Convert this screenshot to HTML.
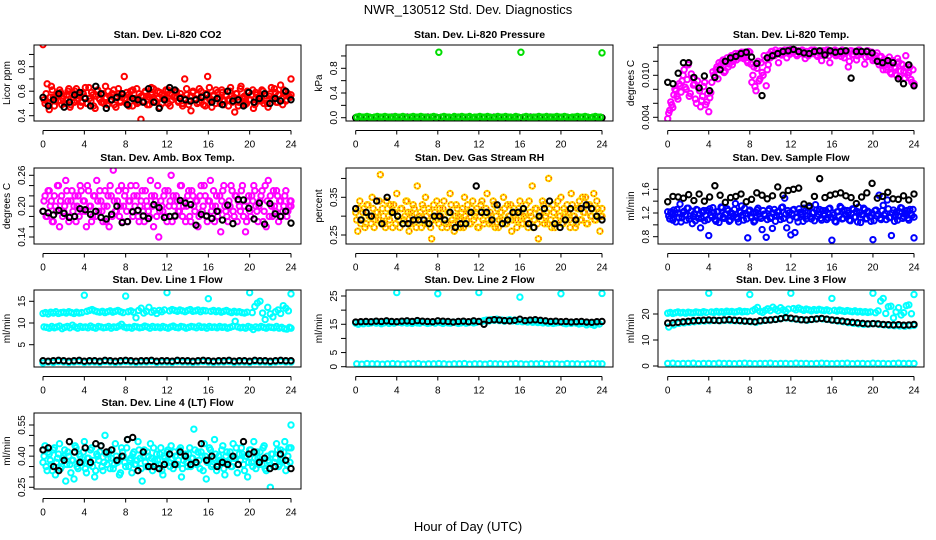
<!DOCTYPE html>
<html><head><meta charset="utf-8"><style>
html,body{margin:0;padding:0;background:#fff;}
svg{display:block;font-family:"Liberation Sans",Arial,sans-serif;}
</style></head><body>
<svg id="chart" width="936" height="540" viewBox="0 0 936 540">
<rect x="0" y="0" width="936" height="540" fill="#fff"/>
<text x="468" y="14" text-anchor="middle" font-size="13">NWR_130512  Std. Dev. Diagnostics</text>
<text x="468" y="531" text-anchor="middle" font-size="13">Hour of Day (UTC)</text>
</svg>
<script>
// ---------- data ----------
const xTicks = [0,4,8,12,16,20,24];
const co2Red = [0.98,0.50,0.66,0.45,0.64,0.55,0.52,0.58,0.61,0.49,0.56,0.53,0.60,0.47,0.57,0.51,0.62,0.54,0.48,0.59,0.55,0.50,0.63,0.52,0.57,0.46,0.60,0.54,0.51,0.58,0.64,0.49,0.56,0.53,0.61,0.47,0.58,0.52,0.55,0.72,0.50,0.57,0.60,0.48,0.54,0.62,0.51,0.37,0.56,0.59,0.53,0.49,0.63,0.55,0.52,0.60,0.47,0.57,0.54,0.61,0.50,0.58,0.53,0.56,0.59,0.51,0.55,0.48,0.70,0.57,0.52,0.44,0.60,0.54,0.50,0.62,0.56,0.49,0.58,0.72,0.53,0.47,0.57,0.61,0.55,0.50,0.59,0.52,0.56,0.48,0.63,0.54,0.43,0.58,0.51,0.64,0.55,0.49,0.60,0.53,0.57,0.46,0.59,0.52,0.55,0.61,0.50,0.56,0.47,0.58,0.54,0.62,0.51,0.57,0.65,0.49,0.59,0.53,0.56,0.70];
const co2RedB = [0.53,0.58,0.50,0.55,0.61,0.48,0.56,0.52,0.59,0.54,0.50,0.57,0.62,0.49,0.55,0.60,0.52,0.57,0.51,0.58,0.63,0.50,0.54,0.59,0.48,0.56,0.61,0.53,0.57,0.50,0.55,0.60,0.52,0.58,0.49,0.56,0.62,0.51,0.57,0.54,0.59,0.48,0.55,0.61,0.53,0.50,0.58,0.56,0.52,0.60,0.49,0.55,0.57,0.62,0.51,0.54,0.59,0.50,0.56,0.53,0.61,0.48,0.57,0.55,0.60,0.52,0.58,0.50,0.54,0.62,0.49,0.56,0.59,0.53,0.57,0.51,0.60,0.55,0.48,0.58,0.63,0.52,0.56,0.50,0.59,0.54,0.61,0.49,0.57,0.53,0.60,0.51,0.55,0.58,0.48,0.62,0.54,0.56,0.50,0.59,0.53,0.61,0.49,0.57,0.55,0.52,0.60,0.58,0.50,0.56,0.63,0.53,0.59,0.51,0.57,0.54,0.61,0.52,0.58,0.55,0.57];
const co2Black = [0.55,0.48,0.53,0.58,0.47,0.51,0.57,0.59,0.54,0.48,0.64,0.58,0.46,0.53,0.55,0.58,0.49,0.54,0.53,0.51,0.62,0.51,0.46,0.53,0.63,0.61,0.54,0.53,0.52,0.53,0.55,0.57,0.51,0.54,0.49,0.60,0.52,0.53,0.48,0.59,0.51,0.54,0.58,0.50,0.54,0.52,0.60,0.53];
const pressGreen = [0.01,0.02,0.01,0.01,0.02,0.01,0.00,0.01,0.02,0.01,0.01,0.02,0.01,0.01,0.00,0.02,
0.01,0.01,0.02,0.01,0.00,0.01,0.02,0.01,0.01,0.02,0.01,0.01,0.00,0.01,0.02,0.01,
1.06,0.01,0.02,0.01,0.01,0.00,0.02,0.01,0.01,0.02,0.01,0.01,0.02,0.00,0.01,0.01,
0.02,0.01,0.01,0.02,0.01,0.00,0.01,0.02,0.01,0.01,0.02,0.01,0.01,0.00,0.02,0.01,
1.06,0.01,0.02,0.01,0.00,0.01,0.01,0.02,0.01,0.01,0.02,0.00,0.01,0.01,0.02,0.01,
0.01,0.02,0.01,0.00,0.01,0.01,0.02,0.01,0.01,0.02,0.01,0.00,0.01,0.02,0.01,0.01,1.05];
const pressBlack = [0.00,0.01,0.00,0.00,0.01,0.00,0.00,0.01,0.00,0.00,0.01,0.00,0.00,0.00,0.01,0.00,0.00,0.01,0.00,0.00,0.01,0.00,0.00,0.00,0.01,0.00,0.00,0.01,0.00,0.00,0.00,0.01,0.00,0.00,0.01,0.00,0.00,0.00,0.01,0.00,0.00,0.01,0.00,0.00,0.00,0.01,0.00,0.00,0.00];
const tempMag = [0.0038,0.0050,0.0058,0.0072,0.0078,0.0066,0.0085,0.0092,0.0108,0.0080,0.0115,0.0074,0.0096,0.0088,0.0060,0.0082,0.0055,0.0070,0.0090,0.0062,0.0048,0.0075,0.0105,0.0098,0.0112,0.0118,0.0110,0.0122,0.0106,0.0125,0.0116,0.0128,0.0120,0.0131,0.0126,0.0130,0.0133,0.0124,0.0131,0.0118,0.0133,0.0090,0.0112,0.0078,0.0120,0.0095,0.0104,0.0128,0.0085,0.0115,0.0125,
0.0134,0.0128,0.0132,0.0118,0.0135,0.0131,0.0136,0.0125,0.0133,0.0137,0.0132,0.0136,0.0128,0.0134,0.0131,0.0135,0.0124,0.0133,0.0130,0.0136,0.0132,0.0135,0.0127,0.0134,0.0121,0.0135,0.0130,0.0136,0.0118,0.0133,0.0135,0.0128,0.0134,0.0131,0.0136,0.0125,0.0133,0.0112,0.0135,0.0129,0.0134,0.0122,0.0136,0.0130,0.0133,0.0116,0.0135,0.0127,0.0133,0.0121,
0.0122,0.0132,0.0115,0.0127,0.0108,0.0120,0.0112,0.0126,0.0102,0.0118,0.0110,0.0124,0.0098,0.0116,0.0106,0.0128,0.0100,0.0112,0.0090,0.0085];
const tempMagB = [0.0046,0.0062,0.0054,0.0080,0.0070,0.0088,0.0076,0.0100,0.0083,0.0094,0.0070,0.0102,0.0086,0.0066,0.0092,0.0078,0.0064,0.0084,0.0058,0.0074,0.0068,0.0090,0.0100,0.0108,0.0095,0.0114,0.0120,0.0104,0.0118,0.0112,0.0124,0.0115,0.0127,0.0122,0.0131,0.0125,0.0129,0.0133,0.0121,0.0134,0.0116,0.0100,0.0084,0.0110,0.0092,0.0118,0.0100,0.0122,0.0108,0.0130,0.0134,0.0130,0.0136,0.0131,0.0134,0.0129,0.0135,0.0132,0.0136,0.0130,0.0134,0.0133,0.0130,0.0135,0.0132,0.0136,0.0130,0.0134,0.0128,0.0135,0.0131,0.0136,0.0129,0.0133,0.0130,0.0135,0.0132,0.0136,0.0128,0.0134,0.0131,0.0136,0.0130,0.0133,0.0127,0.0135,0.0131,0.0134,0.0120,0.0135,0.0130,0.0134,0.0128,0.0136,0.0131,0.0133,0.0126,0.0135,0.0129,0.0133,0.0125,0.0128,0.0120,0.0126,0.0114,0.0123,0.0108,0.0117,0.0104,0.0121,0.0112,0.0100,0.0119,0.0106,0.0115,0.0096,0.0110,0.0104,0.0094,0.0108,0.0088];
const tempBlack = [0.0090,0.0088,0.0103,0.0118,0.0118,0.0097,0.0082,0.0099,0.0078,0.0097,0.0108,0.0120,0.0125,0.0127,0.0131,0.0133,0.0126,0.0117,0.0071,0.0125,0.0128,0.0131,0.0134,0.0135,0.0137,0.0134,0.0132,0.0131,0.0134,0.0135,0.0129,0.0135,0.0133,0.0134,0.0135,0.0096,0.0134,0.0134,0.0134,0.0132,0.0120,0.0118,0.0121,0.0118,0.0095,0.0088,0.0115,0.0085];
const ambMag = [0.19,0.22,0.18,0.23,0.21,0.17,0.20,0.24,0.16,0.22,0.19,0.25,0.21,0.18,0.23,0.20,0.17,0.22,0.24,0.19,0.21,0.16,0.23,0.20,0.18,0.22,0.25,0.19,0.21,0.17,0.23,0.20,0.16,0.22,0.27,0.19,0.21,0.18,0.24,0.20,0.23,0.17,0.21,0.19,0.22,0.24,0.18,0.20,0.23,0.17,0.21,0.19,0.25,0.20,0.22,0.18,0.14,0.21,0.19,0.23,0.17,0.20,0.26,0.22,0.18,0.21,0.19,0.24,0.20,0.17,0.22,0.18,0.23,0.20,0.21,0.16,0.22,0.19,0.24,0.18,0.21,0.25,0.20,0.17,0.22,0.19,0.15,0.23,0.20,0.18,0.21,0.24,0.19,0.22,0.17,0.20,0.23,0.18,0.15,0.21,0.19,0.22,0.24,0.20,0.17,0.21,0.23,0.19,0.16,0.25,0.22,0.18,0.20,0.23,0.17,0.21,0.19,0.22,0.18,0.20,0.21];
const ambMagB = [0.21,0.18,0.23,0.20,0.17,0.22,0.19,0.24,0.21,0.18,0.20,0.23,0.17,0.21,0.19,0.22,0.20,0.18,0.23,0.21,0.19,0.24,0.20,0.17,0.22,0.18,0.21,0.23,0.19,0.20,0.17,0.22,0.24,0.18,0.21,0.19,0.23,0.20,0.17,0.22,0.19,0.21,0.24,0.18,0.20,0.22,0.17,0.21,0.19,0.23,0.20,0.18,0.22,0.16,0.21,0.24,0.19,0.20,0.22,0.18,0.23,0.21,0.17,0.20,0.22,0.19,0.24,0.18,0.21,0.20,0.23,0.17,0.22,0.19,0.21,0.18,0.24,0.20,0.22,0.17,0.21,0.19,0.23,0.20,0.18,0.22,0.21,0.24,0.19,0.17,0.20,0.23,0.18,0.22,0.21,0.19,0.24,0.20,0.17,0.22,0.18,0.21,0.23,0.19,0.20,0.22,0.17,0.24,0.21,0.18,0.20,0.23,0.19,0.22,0.21,0.18,0.20,0.23,0.19,0.21,0.20];
const ambBlack = [0.190,0.187,0.183,0.192,0.186,0.178,0.180,0.195,0.193,0.184,0.190,0.178,0.175,0.184,0.200,0.168,0.170,0.189,0.192,0.181,0.176,0.203,0.197,0.178,0.180,0.181,0.211,0.206,0.203,0.163,0.184,0.181,0.176,0.190,0.173,0.202,0.166,0.213,0.212,0.196,0.175,0.206,0.165,0.205,0.185,0.180,0.190,0.167];
const rhYellow = [0.31,0.26,0.34,0.29,0.32,0.28,0.33,0.30,0.35,0.27,0.31,0.29,0.41,0.32,0.28,0.34,0.30,0.33,0.27,0.31,0.36,0.29,0.32,0.28,0.30,0.34,0.26,0.31,0.33,0.29,0.38,0.30,0.27,0.32,0.35,0.28,0.31,0.24,0.33,0.29,0.30,0.32,0.27,0.34,0.28,0.31,0.36,0.29,0.26,0.33,0.30,0.27,0.32,0.35,0.29,0.31,0.28,0.34,0.30,0.32,0.27,0.33,0.29,0.31,0.36,0.28,0.30,0.34,0.27,0.32,0.29,0.31,0.35,0.28,0.33,0.30,0.26,0.32,0.29,0.31,0.34,0.28,0.30,0.33,0.27,0.31,0.38,0.29,0.32,0.24,0.30,0.34,0.28,0.31,0.40,0.29,0.33,0.27,0.32,0.30,0.35,0.28,0.31,0.33,0.29,0.36,0.30,0.27,0.32,0.34,0.29,0.31,0.35,0.28,0.33,0.30,0.36,0.29,0.32,0.26,0.30];
const rhYellowB = [0.29,0.32,0.28,0.31,0.27,0.33,0.30,0.28,0.32,0.29,0.31,0.34,0.28,0.30,0.27,0.32,0.29,0.31,0.33,0.28,0.30,0.27,0.32,0.29,0.34,0.31,0.28,0.30,0.32,0.27,0.29,0.31,0.33,0.28,0.30,0.32,0.27,0.29,0.31,0.34,0.28,0.30,0.32,0.29,0.27,0.31,0.33,0.28,0.30,0.32,0.29,0.31,0.27,0.30,0.33,0.28,0.32,0.29,0.31,0.27,0.30,0.34,0.28,0.32,0.29,0.31,0.28,0.33,0.30,0.27,0.31,0.29,0.32,0.28,0.30,0.33,0.29,0.31,0.27,0.32,0.30,0.28,0.31,0.29,0.34,0.30,0.27,0.32,0.28,0.31,0.29,0.33,0.30,0.28,0.32,0.27,0.31,0.29,0.34,0.30,0.28,0.32,0.29,0.31,0.27,0.33,0.30,0.28,0.32,0.29,0.35,0.31,0.28,0.33,0.30,0.32,0.29,0.34,0.31,0.30,0.32];
const rhBlack = [0.32,0.29,0.31,0.30,0.34,0.28,0.35,0.31,0.30,0.28,0.28,0.29,0.29,0.29,0.28,0.30,0.30,0.29,0.31,0.27,0.28,0.28,0.31,0.38,0.31,0.31,0.29,0.33,0.28,0.29,0.31,0.31,0.32,0.28,0.27,0.30,0.32,0.34,0.28,0.27,0.29,0.32,0.29,0.32,0.33,0.32,0.30,0.29];
const flowBlue = [1.22,1.10,1.18,1.25,1.05,1.20,1.35,1.12,1.23,1.08,1.28,1.15,1.02,1.19,1.26,1.11,0.95,1.21,1.07,1.24,0.82,1.16,1.29,1.09,1.22,1.04,1.30,1.13,1.18,1.27,1.06,1.20,1.15,1.36,1.10,1.23,1.32,1.08,1.19,0.78,1.25,1.12,1.05,1.21,1.28,1.14,0.92,1.18,0.79,1.24,1.11,0.94,1.26,1.16,1.22,1.09,1.30,1.45,0.95,1.20,0.83,1.25,0.87,1.12,1.27,1.18,1.06,1.23,1.15,1.29,1.10,1.21,1.34,1.14,1.26,1.08,1.19,1.24,1.12,1.28,0.74,1.17,1.05,1.22,1.31,1.10,1.25,1.16,1.20,1.07,1.27,1.13,1.23,1.30,1.04,1.18,1.26,1.11,1.21,1.06,0.75,1.24,1.15,1.50,1.09,1.33,1.19,1.42,1.12,0.82,1.25,1.17,1.08,1.22,1.28,1.14,1.20,1.11,1.26,1.16,0.78];
const flowBlueB = [1.15,1.22,1.08,1.19,1.26,1.12,1.05,1.21,1.17,1.28,1.10,1.23,1.14,1.07,1.25,1.18,1.11,1.24,1.16,1.09,1.27,1.13,1.20,1.06,1.22,1.15,1.29,1.11,1.18,1.24,1.08,1.19,1.26,1.13,1.05,1.21,1.17,1.28,1.10,1.23,1.14,1.20,1.07,1.25,1.18,1.11,1.24,1.16,1.09,1.27,1.13,1.20,1.06,1.22,1.15,1.29,1.11,1.18,1.24,1.08,1.19,1.26,1.13,1.05,1.21,1.17,1.28,1.10,1.23,1.14,1.20,1.07,1.25,1.18,1.11,1.24,1.16,1.09,1.27,1.13,1.20,1.06,1.22,1.15,1.29,1.11,1.18,1.24,1.08,1.19,1.26,1.13,1.05,1.21,1.17,1.28,1.10,1.23,1.14,1.20,1.07,1.25,1.18,1.11,1.24,1.16,1.09,1.27,1.13,1.20,1.06,1.22,1.15,1.29,1.11,1.18,1.24,1.08,1.19,1.26,1.13];
const flowBlack = [1.39,1.48,1.47,1.45,1.51,1.41,1.52,1.40,1.47,1.66,1.50,1.38,1.46,1.48,1.52,1.39,1.43,1.54,1.50,1.44,1.49,1.64,1.50,1.58,1.60,1.62,1.35,1.32,1.48,1.78,1.46,1.50,1.52,1.54,1.49,1.46,1.36,1.47,1.54,1.70,1.45,1.48,1.55,1.44,1.43,1.49,1.42,1.52];
const line1Top = [12.2,12.4,12.1,12.5,12.3,12.6,12.2,12.4,12.5,12.3,12.6,12.4,12.2,12.5,12.3,12.4,16.4,12.7,12.9,13.1,12.8,12.6,12.5,12.7,12.4,12.6,12.8,12.5,12.7,12.9,12.6,12.4,16.2,12.6,12.8,12.5,11.2,12.9,13.4,12.3,12.7,13.6,12.5,12.8,12.2,12.9,12.6,13.0,17.0,12.8,13.1,12.9,12.7,13.0,12.8,12.6,12.9,13.1,12.7,12.8,13.0,12.6,12.9,12.8,15.6,12.7,12.9,12.6,12.8,12.5,12.7,12.9,12.6,12.4,12.7,12.5,12.6,12.4,12.3,12.5,17.0,12.4,13.8,14.6,15.0,12.3,10.8,13.6,12.1,11.4,12.6,13.0,12.2,14.0,13.4,12.8,16.7];
const line1Mid = [9.1,9.0,8.8,9.2,8.9,9.1,9.3,8.7,9.0,9.2,8.9,9.5,9.1,8.8,9.2,9.0,9.1,8.9,9.3,9.0,8.8,9.2,9.1,8.9,9.0,9.2,8.8,9.1,9.0,9.3,9.7,9.1,8.9,9.0,8.8,9.2,9.1,8.9,9.0,9.3,9.1,8.8,9.2,9.0,9.1,8.9,9.2,9.0,8.8,9.1,9.3,9.0,8.9,9.2,9.1,8.8,9.0,9.2,9.1,8.9,9.3,9.0,9.1,8.8,9.2,9.0,9.1,8.9,9.2,9.0,9.1,8.8,9.0,9.2,10.4,9.1,8.9,9.0,8.8,9.2,9.0,8.5,9.1,8.9,9.2,9.0,8.8,9.1,9.0,8.9,9.2,8.8,9.0,8.7,8.6,9.0,8.8];
const line1Low = [0.8,1.0,0.9,1.1,1.0,0.9,1.0,1.1,0.9,1.0,1.0,0.9,1.1,1.0,0.9,1.0,1.1,1.0,0.9,1.0,1.0,1.1,0.9,1.0,1.0,0.9,1.1,1.0,1.0,0.9,1.0,1.1,1.0,0.9,1.0,1.0,1.1,0.9,1.0,1.0,0.9,1.1,1.0,1.0,0.9,1.0,1.1,1.0,1.0];
const line1Black = [1.3,1.2,1.3,1.4,1.3,1.2,1.3,1.4,1.2,1.3,1.3,1.2,1.4,1.3,1.2,1.3,1.4,1.3,1.2,1.3,1.3,1.4,1.2,1.3,1.3,1.2,1.4,1.3,1.3,1.2,1.3,1.4,1.3,1.2,1.3,1.3,1.4,1.2,1.3,1.3,1.2,1.4,1.3,1.3,1.2,1.3,1.4,1.3,1.3];
const line2Top = [15.4,15.0,15.6,15.2,15.7,15.3,15.5,15.8,15.4,15.6,15.2,15.5,15.7,15.3,15.6,15.4,26.2,15.7,15.5,15.8,15.4,15.6,15.3,15.7,15.5,15.4,15.8,15.6,15.3,15.5,15.7,15.4,25.8,15.6,15.3,15.7,15.5,15.4,15.8,15.6,15.3,15.5,15.7,15.4,15.6,15.8,15.5,15.7,26.2,16.0,16.3,16.5,16.2,16.6,16.4,16.8,16.3,16.5,16.1,16.4,16.6,16.2,16.5,16.0,24.6,15.9,16.1,15.8,16.0,15.7,15.9,15.6,15.8,15.5,15.7,15.4,15.6,15.3,15.5,15.6,25.8,15.4,15.2,15.5,15.3,15.6,15.4,15.1,15.3,15.5,14.8,15.2,15.0,14.6,15.3,15.1,25.9];
const line2Low = [1.0,0.9,1.1,1.0,1.0,0.9,1.0,1.1,1.0,0.9,1.0,1.0,1.1,0.9,1.0,1.0,1.1,1.0,0.9,1.0,1.0,1.1,0.9,1.0,1.0,0.9,1.1,1.0,1.0,0.9,1.0,1.1,1.0,0.9,1.0,1.0,1.1,0.9,1.0,1.0,0.9,1.1,1.0,1.0,0.9,1.0,1.1,1.0,1.0];
const line2Black = [15.8,15.9,16.0,15.9,16.1,16.0,16.2,16.0,15.9,16.1,16.2,16.0,16.3,16.1,16.0,15.9,16.2,16.1,16.0,15.8,16.0,16.1,15.9,16.2,16.0,15.0,16.4,16.6,16.5,16.3,16.2,16.4,16.8,16.3,16.5,16.6,16.4,16.2,16.0,16.1,15.9,16.0,15.8,15.9,16.0,15.8,15.7,15.9,16.0];
const line3Top = [20.3,20.6,20.2,20.5,20.8,20.4,20.6,20.3,20.7,20.5,20.4,20.8,20.6,20.5,20.9,20.6,28.0,20.8,20.6,21.0,20.7,20.9,20.6,21.1,20.8,21.0,20.7,20.9,21.2,20.8,21.0,20.9,27.5,21.2,21.8,22.5,21.0,20.6,21.4,22.0,21.3,22.6,21.8,21.2,22.4,21.6,21.0,21.9,28.0,22.1,21.6,22.3,21.8,21.4,21.9,21.6,21.2,21.7,21.4,21.8,21.5,21.3,21.6,21.2,26.0,21.4,21.1,21.5,21.2,21.0,21.3,21.1,20.9,21.2,20.8,21.0,20.7,20.9,20.6,20.8,28.0,20.5,21.2,25.0,26.0,20.2,22.8,23.0,18.5,20.8,22.4,19.6,20.5,23.2,23.5,20.1,27.5];
const line3Mid = [15.0,15.8,16.4,16.6,16.8,17.0,17.2,17.3,17.4,17.5,17.4,17.6,17.5,17.4,17.3,17.2,17.0,16.8,17.3,17.6,17.8,18.0,18.3,18.5,18.2,18.0,17.8,17.6,17.9,18.2,18.1,17.9,17.6,17.3,17.0,16.7,16.4,16.2,16.0,16.1,16.3,16.0,15.8,15.6,15.5,15.4,15.3,15.5,15.6];
const line3Low = [1.0,1.1,0.9,1.0,1.0,1.1,0.9,1.0,1.0,0.9,1.1,1.0,1.0,0.9,1.0,1.1,1.0,0.9,1.0,1.0,1.1,0.9,1.0,1.0,0.9,1.1,1.0,1.0,0.9,1.0,1.1,1.0,0.9,1.0,1.0,1.1,0.9,1.0,1.0,0.9,1.1,1.0,1.0,0.9,1.0,1.1,1.0,1.0,1.0];
const line3Black = [16.5,16.6,16.8,17.0,17.2,17.4,17.5,17.6,17.7,17.6,17.5,17.7,17.8,17.6,17.5,17.3,17.2,17.0,17.4,17.6,17.7,17.9,18.2,18.6,18.4,18.1,17.8,17.7,17.9,18.1,18.3,18.0,17.7,17.5,17.3,17.0,16.8,16.6,16.4,16.2,16.3,16.2,16.0,15.9,15.8,15.9,15.7,15.8,16.0];
const line4Cyan = [0.37,0.45,0.33,0.41,0.36,0.43,0.31,0.39,0.46,0.35,0.40,0.28,0.42,0.36,0.38,0.29,0.44,0.34,0.40,0.37,0.47,0.32,0.39,0.43,0.35,0.30,0.41,0.38,0.45,0.33,0.50,0.36,0.42,0.39,0.34,0.46,0.37,0.31,0.44,0.40,0.35,0.48,0.38,0.32,0.42,0.36,0.47,0.39,0.28,0.43,0.35,0.40,0.46,0.33,0.38,0.41,0.36,0.44,0.31,0.39,0.42,0.37,0.45,0.34,0.40,0.36,0.43,0.30,0.38,0.41,0.35,0.44,0.39,0.53,0.37,0.42,0.34,0.40,0.46,0.29,0.38,0.43,0.36,0.48,0.33,0.40,0.37,0.45,0.31,0.42,0.38,0.35,0.46,0.39,0.32,0.41,0.44,0.36,0.40,0.30,0.43,0.37,0.47,0.34,0.39,0.42,0.36,0.45,0.33,0.38,0.25,0.41,0.37,0.46,0.35,0.43,0.39,0.47,0.36,0.44,0.55];
const line4CyanB = [0.40,0.35,0.42,0.38,0.33,0.44,0.37,0.41,0.34,0.39,0.43,0.36,0.40,0.32,0.38,0.45,0.35,0.41,0.37,0.42,0.34,0.39,0.36,0.44,0.38,0.33,0.40,0.42,0.35,0.37,0.41,0.39,0.34,0.43,0.36,0.40,0.38,0.32,0.42,0.37,0.44,0.35,0.39,0.41,0.36,0.38,0.43,0.34,0.40,0.37,0.42,0.35,0.39,0.44,0.36,0.38,0.41,0.33,0.40,0.37,0.43,0.35,0.39,0.42,0.36,0.38,0.44,0.34,0.40,0.37,0.41,0.35,0.39,0.43,0.36,0.38,0.42,0.33,0.40,0.37,0.44,0.35,0.39,0.41,0.36,0.38,0.43,0.34,0.40,0.37,0.42,0.35,0.39,0.44,0.36,0.38,0.41,0.33,0.40,0.37,0.43,0.35,0.39,0.42,0.36,0.38,0.44,0.34,0.40,0.37,0.41,0.35,0.39,0.43,0.36,0.38,0.42,0.33,0.40,0.37,0.44];
const line4Black = [0.43,0.44,0.35,0.33,0.38,0.47,0.42,0.37,0.44,0.37,0.46,0.45,0.42,0.43,0.38,0.40,0.48,0.49,0.33,0.42,0.35,0.35,0.34,0.36,0.41,0.36,0.42,0.40,0.36,0.37,0.46,0.38,0.40,0.35,0.37,0.36,0.40,0.36,0.47,0.41,0.42,0.37,0.39,0.34,0.35,0.41,0.38,0.34];

// ---------- layout ----------
const colL=[34,346,658], colR=[301,613,924], colX0=[43,355.7,667.7], colX24=[291,602,914];
const rowT=[45,168,290,413], rowB=[121,244,367,489];
const panels=[
 {c:0,r:0,name:'co2',title:'Stan. Dev. Li-820 CO2',ylab:'Licor ppm',yv:[0.4,0.8],yp:[115.7,66.7],ticks:[0.4,0.5,0.6,0.7,0.8,0.9],labels:{'0.4':'0.4','0.6':'0.6','0.8':'0.8'},series:[[co2Red,'#ff0000'],[co2RedB,'#ff0000'],[co2Black,'#000']]},
 {c:1,r:0,name:'pressure',title:'Stan. Dev. Li-820 Pressure',ylab:'kPa',yv:[0,0.8],yp:[117.7,68.3],ticks:[0,0.2,0.4,0.6,0.8,1.0],labels:{'0':'0.0','0.4':'0.4','0.8':'0.8'},series:[[pressBlack,'#000'],[pressGreen,'#00dd00']]},
 {c:2,r:0,name:'temp',title:'Stan. Dev. Li-820 Temp.',ylab:'degrees C',yv:[0.004,0.010],yp:[117.3,75.3],ticks:[0.004,0.006,0.008,0.010,0.012,0.014],labels:{'0.004':'0.004','0.01':'0.010'},series:[[tempMag,'#ff00ff'],[tempMagB,'#ff00ff'],[tempBlack,'#000']]},
 {c:0,r:1,name:'amb-box-temp',title:'Stan. Dev. Amb. Box Temp.',ylab:'degrees C',yv:[0.14,0.26],yp:[237,175.3],ticks:[0.14,0.16,0.18,0.20,0.22,0.24,0.26],labels:{'0.14':'0.14','0.2':'0.20','0.26':'0.26'},series:[[ambMag,'#ff00ff'],[ambMagB,'#ff00ff'],[ambBlack,'#000']]},
 {c:1,r:1,name:'gas-rh',title:'Stan. Dev. Gas Stream RH',ylab:'percent',yv:[0.25,0.35],yp:[235,197.3],ticks:[0.25,0.30,0.35,0.40],labels:{'0.25':'0.25','0.35':'0.35'},series:[[rhYellow,'rh'],[rhYellowB,'rh'],[rhBlack,'#000']]},
 {c:2,r:1,name:'sample-flow',title:'Stan. Dev. Sample Flow',ylab:'ml/min',yv:[0.8,1.6],yp:[236.7,189.3],ticks:[0.8,1.0,1.2,1.4,1.6],labels:{'0.8':'0.8','1.2':'1.2','1.6':'1.6'},series:[[flowBlue,'#0000ff'],[flowBlueB,'#0000ff'],[flowBlack,'#000']]},
 {c:0,r:2,name:'line1-flow',title:'Stan. Dev. Line 1 Flow',ylab:'ml/min',yv:[5,15],yp:[344.7,301.3],ticks:[5,10,15],labels:{'5':'5','10':'10','15':'15'},series:[[line1Top,'#00ffff'],[line1Mid,'#00ffff'],[line1Low,'#00ffff'],[line1Black,'#000']]},
 {c:1,r:2,name:'line2-flow',title:'Stan. Dev. Line 2 Flow',ylab:'ml/min',yv:[0,25],yp:[366.7,296],ticks:[0,5,10,15,20,25],labels:{'0':'0','5':'5','15':'15','25':'25'},series:[[line2Top,'#00ffff'],[line2Low,'#00ffff'],[line2Black,'#000']]},
 {c:2,r:2,name:'line3-flow',title:'Stan. Dev. Line 3 Flow',ylab:'ml/min',yv:[0,20],yp:[366,314],ticks:[0,10,20],labels:{'0':'0','10':'10','20':'20'},series:[[line3Top,'#00ffff'],[line3Mid,'#00ffff'],[line3Low,'#00ffff'],[line3Black,'#000']]},
 {c:0,r:3,name:'line4-flow',title:'Stan. Dev. Line 4 (LT) Flow',ylab:'ml/min',yv:[0.25,0.55],yp:[487.3,425],ticks:[0.25,0.30,0.35,0.40,0.45,0.50,0.55],labels:{'0.25':'0.25','0.4':'0.40','0.55':'0.55'},series:[[line4Cyan,'#00ffff'],[line4CyanB,'#00ffff'],[line4Black,'#000']]}
];

const NS='http://www.w3.org/2000/svg';
const svg=document.getElementById('chart');
function mk(tag,attrs,parent){const e=document.createElementNS(NS,tag);for(const k in attrs)e.setAttribute(k,attrs[k]);(parent||svg).appendChild(e);return e;}

panels.forEach(p=>{
  const L=colL[p.c],R=colR[p.c],T=rowT[p.r],B=rowB[p.r];
  const xs=h=>colX0[p.c]+h*(colX24[p.c]-colX0[p.c])/24;
  const ys=v=>p.yp[0]+(v-p.yv[0])*(p.yp[1]-p.yp[0])/(p.yv[1]-p.yv[0]);
  const g=mk('g',{});
  
  
  const ttl=mk('text',{x:(L+R)/2,y:T-7,'text-anchor':'middle','font-size':'10.5','font-weight':'bold'},g);
  ttl.textContent=p.title;
  
  
  const yl=mk('text',{x:0,y:0,'text-anchor':'middle','font-size':'10',transform:`translate(${L-24},${(T+B)/2}) rotate(-90)`},g);
  yl.textContent=p.ylab;
  
  
  const xa=mk('g',{stroke:'#000','stroke-width':'1'},g);
  
  
  const ay=B+9.5;
  mk('line',{x1:xs(xTicks[0]),x2:xs(xTicks[xTicks.length-1]),y1:ay,y2:ay},xa);
  xTicks.forEach(t=>{
    mk('line',{x1:xs(t),x2:xs(t),y1:ay,y2:ay+4},xa);
    const tl=mk('text',{x:xs(t),y:ay+17,'text-anchor':'middle','font-size':'10',stroke:'none'},g);
    tl.textContent=String(t);
    
    
  });
  const ya=mk('g',{stroke:'#000','stroke-width':'1'},g);
  
  
  mk('line',{x1:L,x2:L,y1:ys(p.ticks[0]),y2:ys(p.ticks[p.ticks.length-1])},ya);
  p.ticks.forEach(t=>{
    mk('line',{x1:L-5,x2:L,y1:ys(t),y2:ys(t)},ya);
    const key=String(+t.toFixed(4));
    if(p.labels[key]!==undefined){
      const tl=mk('text',{x:0,y:0,'text-anchor':'middle','font-size':'10',transform:`translate(${L-9},${ys(t)}) rotate(-90)`},g);
      tl.textContent=p.labels[key];
      
      
    }
  });
  const clip='clip-'+p.name;
  const cp=mk('clipPath',{id:clip},g);mk('rect',{x:L,y:T,width:R-L,height:B-T},cp);
  const pts=mk('g',{'clip-path':`url(#${clip})`,fill:'none'},g);
  p.series.forEach(([arr,col],si)=>{
    const sg=mk('g',{},pts);
    
    
    const n=arr.length;
    const off = si%2===1 && col!=='#000' ? 0.1 : 0;
    arr.forEach((v,i)=>{
      const h=Math.min(24,i*24/(n-1)+off);
      const cx=xs(h),cy=ys(v);
      if(col==='rh'){
        const c1=mk('circle',{cx,cy,r:2.7,stroke:'#ffdd00','stroke-width':'2.2'},sg);
        
        
        mk('circle',{cx,cy,r:2.7,stroke:'#ff2200','stroke-width':'1','stroke-dasharray':'1 2'},sg);
      } else {
        const c=mk('circle',{cx,cy,r:2.7,stroke:col,'stroke-width':col==='#000'?'2':'2'},sg);
        
        
      }
    });
  });
  const box=mk('rect',{x:L,y:T,width:R-L,height:B-T,fill:'none',stroke:'#000','stroke-width':'1'},g);
  
  
});
</script>
</body></html>
